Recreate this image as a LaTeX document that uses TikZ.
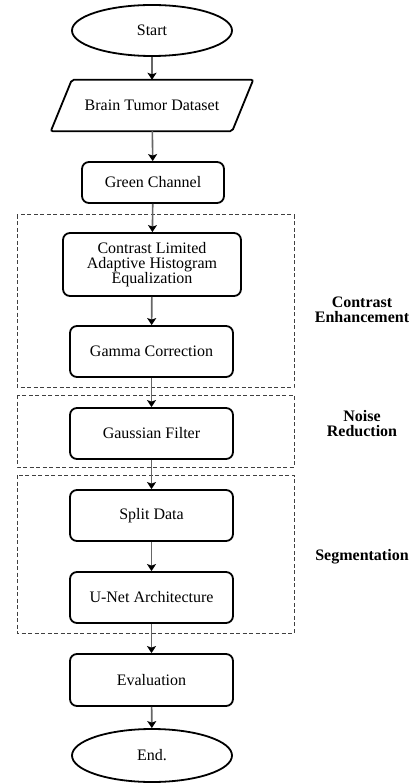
\documentclass[tikz,border=0pt]{standalone}
\usepackage{fontspec}
\setmainfont{Liberation Serif}
\usetikzlibrary{shapes.geometric,arrows.meta}

\begin{document}
\begin{tikzpicture}[x=1pt,y=1pt,
  font=\fontsize{16}{15}\selectfont,
  term/.style={draw,ellipse,line width=1.8pt,minimum width=160pt,minimum height=51pt,inner sep=0pt},
  io/.style={rectangle,minimum width=181pt,minimum height=51pt,inner sep=0pt},
  proc/.style={draw,rectangle,rounded corners=7pt,line width=1.8pt,minimum width=163pt,minimum height=51pt,inner sep=0pt,align=center},
  flow/.style={draw=black!60,line width=1.6pt,-{Stealth[black,length=7pt,width=9pt,inset=1.5pt]}},
  group/.style={draw=black!75,line width=1pt,dash pattern=on 4pt off 2.5pt},
  tag/.style={font=\fontsize{16}{15}\selectfont\bfseries,align=center}]
\useasboundingbox (0,0) rectangle (416,-783);

% stages
\draw[group] (17,-215) rectangle (294,-387); % contrast
\draw[group] (17,-395) rectangle (294,-467); % noise
\draw[group] (17,-475) rectangle (294,-633); % segmentation

\node[tag] (tcon) at (362,-310) {Contrast\\Enhancement};
\node[tag] (tnoise) at (362,-423.5) {Noise\\Reduction};
\node[tag] (tseg) at (362,-557) {Segmentation};

% steps
\node[term] (start) at (152,-30.5) {Start};
\node[io] (data) at (152,-105.5) {Brain Tumor Dataset};
\draw[line width=1.8pt,rounded corners=2pt] ([xshift=10.5pt]data.north west) -- ([xshift=10.5pt]data.north east)
  -- ([xshift=-10.5pt]data.south east) -- ([xshift=-10.5pt]data.south west) -- cycle; % parallelogram
\node[proc,minimum width=142pt,minimum height=41pt] (green) at (153,-182.5) {Green Channel};
\node[proc,minimum width=178pt,minimum height=63pt] (clahe) at (152,-264.5) {Contrast Limited\\Adaptive Histogram\\Equalization};
\node[proc] (gamma) at (151.5,-351.5) {Gamma Correction};
\node[proc] (gauss) at (151.5,-433.5) {Gaussian Filter};
\node[proc] (split) at (151.5,-515.5) {Split Data};
\node[proc] (unet) at (151.5,-597.5) {U-Net Architecture};
\node[proc,minimum height=52pt] (eval) at (151.5,-680) {Evaluation};
\node[term,minimum height=53pt] (end) at (152,-755.5) {End.};

\draw[flow] (start) -- (data);
\draw[flow] (data) -- (green);
\draw[flow] (green) -- (clahe);
\draw[flow] (clahe) -- (gamma);
\draw[flow] (gamma) -- (gauss);
\draw[flow] (gauss) -- (split);
\draw[flow] (split) -- (unet);
\draw[flow] (unet) -- (eval);
\draw[flow] (eval) -- (end);
\end{tikzpicture}
\end{document}
